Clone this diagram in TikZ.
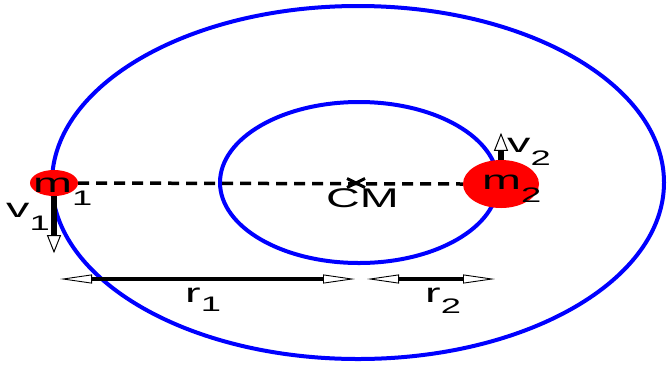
\documentclass[tikz,border=0pt]{standalone}
\usepackage{fontspec}
\setmainfont{Liberation Sans}
\usetikzlibrary{arrows.meta,shapes.geometric,calc}
\newcommand{\lblsub}[3]{\scalebox{1.73}[1]{\fontsize{27}{27}\selectfont #1\raisebox{-#3pt}{\fontsize{21}{21}\selectfont #2}}}
\tikzset{
  orbit/.style={draw=blue, line width=4pt},
  mass/.style={ellipse, fill=red, draw=none, inner sep=0pt},
  vel/.style={line width=5.5pt, -{Triangle[open, length=18pt, width=14pt, line width=1pt]}},
  dist/.style={line width=3.2pt, {Triangle[open, length=32pt, width=9pt, line width=0.9pt]}-{Triangle[open, length=32pt, width=9pt, line width=0.9pt]}},
  lbl/.style={inner sep=0pt, anchor=base west},
}
\begin{document}
\begin{tikzpicture}[x=1pt, y=-1pt]
\useasboundingbox (0,0) rectangle (668,365);
\coordinate (c) at (358,182.5);
\draw[orbit] (c) ellipse [x radius=306, y radius=176.5];
\draw[orbit] (359,182.5) ellipse [x radius=139, y radius=80.5];
\coordinate (cm) at (356,183);
\node[mass, minimum width=48pt, minimum height=26pt] (m1) at (54,183) {};
\node[mass, minimum width=76pt, minimum height=48pt] (m2) at (501,184) {};
\draw[line width=3.5pt, dash pattern=on 11pt off 7pt] (m1.east) -- (m2.west);
\draw[line width=3pt] ($(cm)+(-9,-4.5)$) -- ($(cm)+(9,4.5)$) ($(cm)+(-9,4.5)$) -- ($(cm)+(9,-4.5)$);
\draw[vel] (m1.south) -- ++(0,57);
\draw[vel] (m2.north) -- ++(0,-27);
\coordinate (r1a) at (60,279);
\coordinate (r1b) at (355,279);
\coordinate (r2a) at (367,279);
\coordinate (r2b) at (495,279);
\draw[dist] (r1a) -- (r1b);
\draw[dist] (r2a) -- (r2b);
\node[lbl] (tm1) at (33,192) {\lblsub{m}{1}{13}};
\node[lbl] (tm2) at (482,189) {\lblsub{m}{2}{13}};
\node[lbl] (tv1) at (6,217) {\lblsub{v}{1}{13}};
\node[lbl] (tv2) at (507,152) {\lblsub{v}{2}{13}};
\node[lbl] (tcm) at (326,207) {\scalebox{1.73}[1]{\fontsize{27}{27}\selectfont CM}};
\node[lbl] (tr1) at (185,302) {\lblsub{r}{1}{9}};
\node[lbl] (tr2) at (425,302) {\lblsub{r}{2}{11}};
\end{tikzpicture}
\end{document}
